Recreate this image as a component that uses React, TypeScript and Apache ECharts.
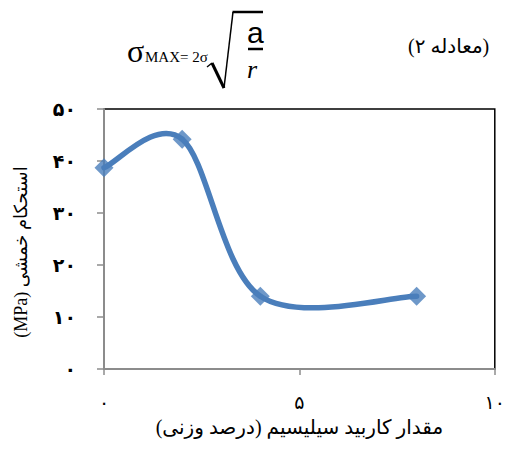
import React, { useEffect, useRef } from "react";
import * as echarts from "echarts";

const xValues = [0, 2, 4, 8];
const yValues = [38.7, 44.2, 14.0, 14.0];
const xTickLabels: Record<number, string> = { 0: "۰", 5: "۵", 10: "۱۰" };
const yTickLabels: Record<number, string> = { 0: "۰", 10: "۱۰", 20: "۲۰", 30: "۳۰", 40: "۴۰", 50: "۵۰" };
const xAxisTitle = "مقدار کاربید سیلیسیم (درصد وزنی)";
const yAxisTitle = "استحکام خمشی (MPa)";
const eqLabel = "(معادله ۲)";

const BLUE = "#4a7ebb";
const SERIF = "'Liberation Serif', 'DejaVu Sans', serif";

export default function App() {
  const ref = useRef<HTMLDivElement>(null);
  useEffect(() => {
    document.body.style.margin = "0";
    if (!ref.current) return;
    const chart = echarts.init(ref.current, null, { renderer: "svg" });
    const n = xValues.length;
    const pts = xValues.map((x, i) => [x, yValues[i]]);
    const clamp = (k: number) => Math.max(0, Math.min(n - 1, k));
    chart.setOption({
      animation: false,
      backgroundColor: "#fff",
      grid: {
        left: 104,
        top: 109,
        right: 11,
        bottom: 81,
        show: true,
        borderColor: "#000",
        borderWidth: 1.5,
        backgroundColor: "#fff",
      },
      xAxis: {
        type: "value",
        min: 0,
        max: 10,
        interval: 5,
        name: xAxisTitle,
        nameLocation: "middle",
        nameGap: 41,
        nameTextStyle: { fontFamily: SERIF, fontSize: 20, color: "#000" },
        axisLine: { show: true, lineStyle: { color: "#8c8c8c", width: 2 } },
        axisTick: { show: true, length: 6, lineStyle: { color: "#8c8c8c", width: 1.5 } },
        splitLine: { show: false },
        axisLabel: {
          margin: 24,
          fontFamily: SERIF,
          fontSize: 19,
          color: "#000",
          formatter: (v: number) => xTickLabels[v] ?? "",
        },
      },
      yAxis: {
        type: "value",
        min: 0,
        max: 50,
        interval: 10,
        name: yAxisTitle,
        nameLocation: "middle",
        nameRotate: 90,
        nameGap: 74,
        nameTextStyle: { fontFamily: SERIF, fontSize: 18, color: "#000", padding: [0, 26, 0, 0] },
        axisLine: { show: true, lineStyle: { color: "#8c8c8c", width: 2 } },
        axisTick: { show: true, length: 7, lineStyle: { color: "#8c8c8c", width: 1.5 } },
        splitLine: { show: false },
        axisLabel: {
          margin: 28,
          fontFamily: SERIF,
          fontSize: 19,
          fontWeight: "bold",
          color: "#000",
          formatter: (v: number) => yTickLabels[v] ?? "",
        },
      },
      series: [
        {
          type: "custom",
          data: pts,
          encode: { x: 0, y: 1 },
          z: 2,
          renderItem: (params: any, api: any) => {
            const i = params.dataIndex;
            if (i >= n - 1) return null;
            const c = (k: number) => api.coord([xValues[clamp(k)], yValues[clamp(k)]]);
            const p0 = c(i - 1), p1 = c(i), p2 = c(i + 1), p3 = c(i + 2);
            return {
              type: "bezierCurve",
              shape: {
                x1: p1[0],
                y1: p1[1],
                x2: p2[0],
                y2: p2[1],
                cpx1: p1[0] + (p2[0] - p0[0]) / 6,
                cpy1: p1[1] + (p2[1] - p0[1]) / 6,
                cpx2: p2[0] - (p3[0] - p1[0]) / 6,
                cpy2: p2[1] - (p3[1] - p1[1]) / 6,
              },
              style: { stroke: BLUE, lineWidth: 5.5, fill: null, lineCap: "round" },
            };
          },
        },
        {
          type: "scatter",
          data: pts,
          symbol: "diamond",
          symbolSize: 19,
          z: 3,
          itemStyle: { color: BLUE },
        },
      ],
      graphic: [
        { type: "text", left: 127, top: 35, style: { text: "σ", font: "32px 'Liberation Serif', serif", fill: "#000" } },
        { type: "text", left: 145, top: 49, style: { text: "MAX= 2σ", font: "15px 'Liberation Serif', serif", fill: "#000" } },
        {
          type: "polyline",
          shape: { points: [[207, 67], [212, 63]] },
          style: { stroke: "#000", lineWidth: 1.5, fill: null },
        },
        {
          type: "polyline",
          shape: { points: [[212, 63], [224, 88]] },
          style: { stroke: "#000", lineWidth: 3, fill: null },
        },
        {
          type: "polyline",
          shape: { points: [[224, 88], [233, 12]] },
          style: { stroke: "#000", lineWidth: 1.5, fill: null },
        },
        {
          type: "polyline",
          shape: { points: [[232.5, 12], [263, 12]] },
          style: { stroke: "#000", lineWidth: 2.5, fill: null },
        },
        { type: "text", left: 247, top: 17, style: { text: "a", font: "30px 'Liberation Sans', sans-serif", fill: "#000" } },
        {
          type: "line",
          shape: { x1: 248, y1: 49, x2: 263, y2: 49 },
          style: { stroke: "#000", lineWidth: 2.5 },
        },
        { type: "text", left: 247, top: 56, style: { text: "r", font: "italic 26px 'Liberation Serif', serif", fill: "#000" } },
        { type: "text", left: 408, top: 36, style: { text: eqLabel, font: `20px ${SERIF}`, fill: "#000" } },
      ],
    });
    // Render the vertical axis title right-to-left, as in the reference.
    ref.current.querySelectorAll("text").forEach((t) => {
      if (t.textContent === yAxisTitle) {
        (t as SVGTextElement).style.direction = "rtl";
        (t as SVGTextElement).style.unicodeBidi = "embed";
      }
    });
    return () => chart.dispose();
  }, []);
  return <div ref={ref} style={{ width: 508, height: 450 }} />;
}
